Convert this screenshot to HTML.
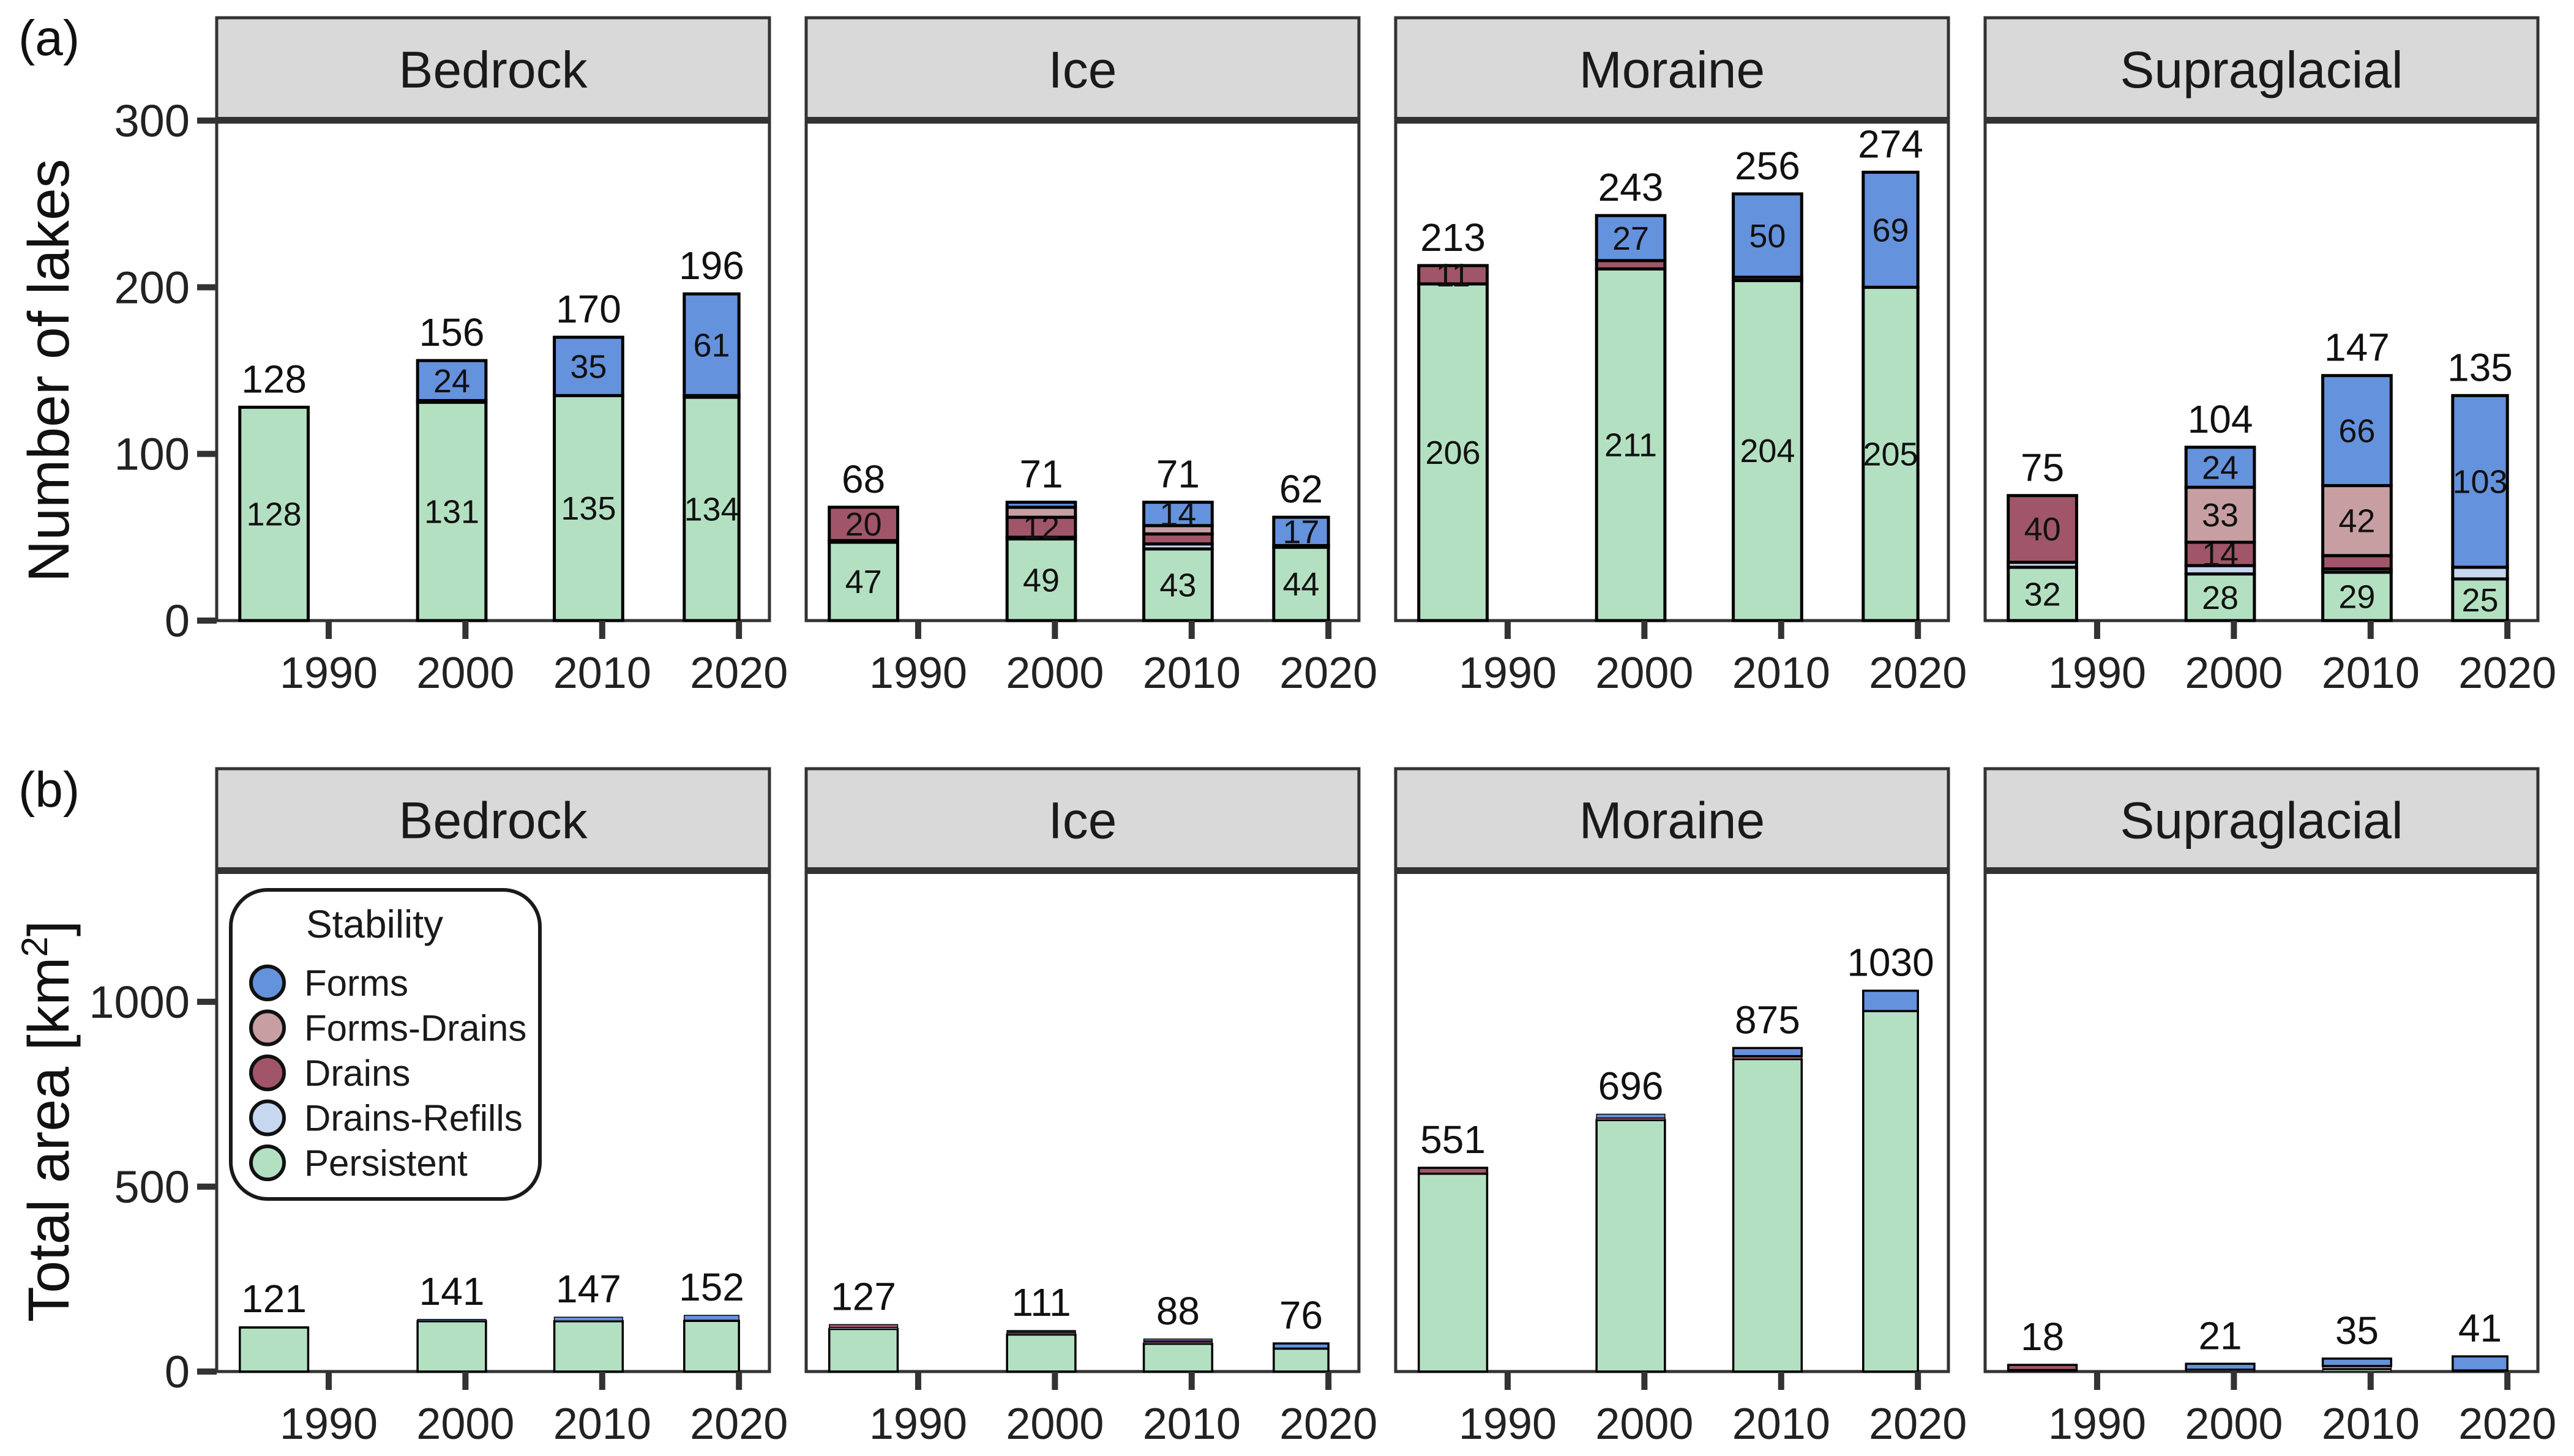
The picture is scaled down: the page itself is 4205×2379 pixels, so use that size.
<!DOCTYPE html>
<html><head><meta charset="utf-8"><style>
html,body{margin:0;padding:0;background:#fff;}
svg{display:block;font-family:"Liberation Sans",sans-serif;}
</style></head><body>
<svg id="chart" width="4205" height="2379" viewBox="0 0 4205 2379" xmlns="http://www.w3.org/2000/svg"></svg>
<script>
// ---- data ----
const panels = ["Bedrock","Ice","Moraine","Supraglacial"];
const stabilities = ["Persistent","Drains-Refills","Drains","Forms-Drains","Forms"];
const colors = ["#b4e0c2","#c6d8f0","#a05668","#c79fa3","#6592dd"];
const yearTicks = [1990,2000,2010,2020];
const barStart = [1983.5,1996.5,2006.5,2016];
const barEnd = [1988.5,2001.5,2011.5,2020];
// Row (a): number of lakes, [panel][stability][bar]
const countPersistent = [[128,131,135,134],[47,49,43,44],[202,211,204,200],[32,28,29,25]];
const countDrainsRefills = [[0,1,0,1],[1,1,3,1],[0,0,0,0],[3,5,2,7]];
const countDrains = [[0,0,0,0],[20,12,6,0],[11,5,2,0],[40,14,8,0]];
const countFormsDrains = [[0,0,0,0],[0,6,5,0],[0,0,0,0],[0,33,42,0]];
const countForms = [[0,24,35,61],[0,3,14,17],[0,27,50,69],[0,24,66,103]];
const countTotals = [[128,156,170,196],[68,71,71,62],[213,243,256,274],[75,104,147,135]];
// printed segment labels [panel][stability][bar] (null = none)
const countLabels = [
 [["128","131","135","134"],[null,null,null,null],[null,null,null,null],[null,null,null,null],[null,"24","35","61"]],
 [["47","49","43","44"],[null,null,null,null],["20","12",null,null],[null,null,null,null],[null,null,"14","17"]],
 [["206","211","204","205"],[null,null,null,null],["11",null,null,null],[null,null,null,null],[null,"27","50","69"]],
 [["32","28","29","25"],[null,null,null,null],["40","14",null,null],[null,"33","42",null],[null,"24","66","103"]]
];
// Row (b): total area km2
const areaPersistent = [[119,136,136,137],[115,100,75,62],[535,680,845,975],[4,5,5,3]];
const areaDrainsRefills = [[2,1,1,2],[4,0,0,0],[0,0,0,0],[0,0,0,0]];
const areaDrains = [[0,0,0,0],[8,5,5,0],[16,6,8,0],[14,0,3,0]];
const areaFormsDrains = [[0,0,0,0],[0,3,3,0],[0,0,0,0],[0,0,7,0]];
const areaForms = [[0,4,10,13],[0,3,5,14],[0,10,22,55],[0,16,20,38]];
const areaTotals = [[121,141,147,152],[127,111,88,76],[551,696,875,1030],[18,21,35,41]];
const countTicks = [0,100,200,300];
const areaTicks = [0,500,1000];

// ---- layout ----
const NS="http://www.w3.org/2000/svg";
const svg=document.getElementById('chart');
const P0=354, PITCH=963, PW=903, XMIN=1981.81, XMAX=2022.23;
const rows=[
 {stripTop:29, top:197, bottom:1014, ymax:300, ticks:countTicks, tag:"(a)", tagY:90, title:"Number of lakes", tname:"count",
  series:[countPersistent,countDrainsRefills,countDrains,countFormsDrains,countForms], totals:countTotals, labels:countLabels},
 {stripTop:1256, top:1423, bottom:2241, ymax:1354, ticks:areaTicks, tag:"(b)", tagY:1318, title:"Total area [km", tname:"area",
  series:[areaPersistent,areaDrainsRefills,areaDrains,areaFormsDrains,areaForms], totals:areaTotals, labels:null}
];
function el(tag,attrs,parent,text){const e=document.createElementNS(NS,tag);for(const k in attrs)e.setAttribute(k,attrs[k]);if(text!==undefined)e.textContent=text;(parent||svg).appendChild(e);return e;}

rows.forEach((row,ri)=>{
  const ys=v=>row.bottom-(v/row.ymax)*(row.bottom-row.top);
  const tag=el('text',{x:30,y:row.tagY,'font-size':82,fill:'#111'},svg,row.tag);
  
  
  const yt=el('text',{x:0,y:0,'font-size':95,fill:'#111','text-anchor':'middle',transform:`translate(112,${(row.top+row.bottom)/2}) rotate(-90)`},svg);
  
  
  yt.textContent=row.title;
  if(ri===1){el('tspan',{'font-size':60,dy:-35},yt,'2');el('tspan',{'font-size':95,dy:35},yt,']');}
  row.ticks.forEach(t=>{
    const y=ys(t);
    const tk=el('line',{x1:322,x2:354,y1:y,y2:y,stroke:'#333','stroke-width':10});
    
    
    const tl=el('text',{x:310,y:y+26,'font-size':74,fill:'#222','text-anchor':'end'},svg,String(t));
    
    
  });
  panels.forEach((pn,pi)=>{
    const L=P0+pi*PITCH;
    const xs=yr=>L+(yr-XMIN)/(XMAX-XMIN)*PW;
    const g=el('g',{});
    
    
    const st=el('rect',{x:L,y:row.stripTop,width:PW,height:row.top-row.stripTop,fill:'#d9d9d9',stroke:'#333','stroke-width':5},g);
    
    
    const stt=el('text',{x:L+PW/2,y:(row.stripTop+row.top)/2+30,'font-size':84,fill:'#1a1a1a','text-anchor':'middle'},g,pn);
    
    
    const pb=el('rect',{x:L,y:row.top,width:PW,height:row.bottom-row.top,fill:'#fff',stroke:'#333','stroke-width':5},g);
    
    
    for(let b=0;b<barStart.length;b++){
      let cum=0;
      const x0=xs(barStart[b]), x1=xs(barEnd[b]);
      row.series.forEach((ser,si)=>{
        const v=ser[pi][b]; if(!v) return;
        const yTop=ys(cum+v), yBot=ys(cum);
        const r=el('rect',{x:x0,y:yTop,width:x1-x0,height:yBot-yTop,fill:colors[si],stroke:'#000','stroke-width':ri===0?5:(yBot-yTop<8?1.5:3.5)},g);
        
        
        if(row.labels){
          const lab=row.labels[pi][si][b];
          if(lab){
            const t=el('text',{x:(x0+x1)/2,y:(yTop+yBot)/2+19,'font-size':54,fill:'#111','text-anchor':'middle'},g,lab);
            
            
          }
        }
        cum+=v;
      });
      const tot=row.totals[pi][b];
      const tt=el('text',{x:(x0+x1)/2,y:ys(cum)-24,'font-size':64,fill:'#111','text-anchor':'middle'},g,String(tot));
      
      
    }
    const sl=el('rect',{x:L-2,y:row.top-6,width:PW+4,height:11,fill:'#333'},g);
    
    
    yearTicks.forEach(yr=>{
      const x=xs(yr);
      const tk=el('line',{x1:x,x2:x,y1:row.bottom,y2:row.bottom+30,stroke:'#333','stroke-width':10},g);
      
      
      const tl=el('text',{x:x,y:row.bottom+110,'font-size':72,fill:'#222','text-anchor':'middle'},g,String(yr));
      
      
    });
  });
});

const lg=el('g',{});


const lb=el('rect',{x:377,y:1454,width:505,height:505,rx:60,ry:60,fill:'#fff',stroke:'#1a1a1a','stroke-width':6},lg);


const ltitle=el('text',{x:612,y:1532,'font-size':64,fill:'#1a1a1a','text-anchor':'middle'},lg,'Stability');


const legendOrder=[4,3,2,1,0];
legendOrder.forEach((si,i)=>{
  const y=1606+i*73.5;
  const c=el('circle',{cx:437,cy:y,r:27,fill:colors[si],stroke:'#111','stroke-width':6},lg);
  
  
  const t=el('text',{x:497,y:y+21,'font-size':60,fill:'#1a1a1a'},lg,stabilities[si]);
  
  
});
</script>
</body></html>
